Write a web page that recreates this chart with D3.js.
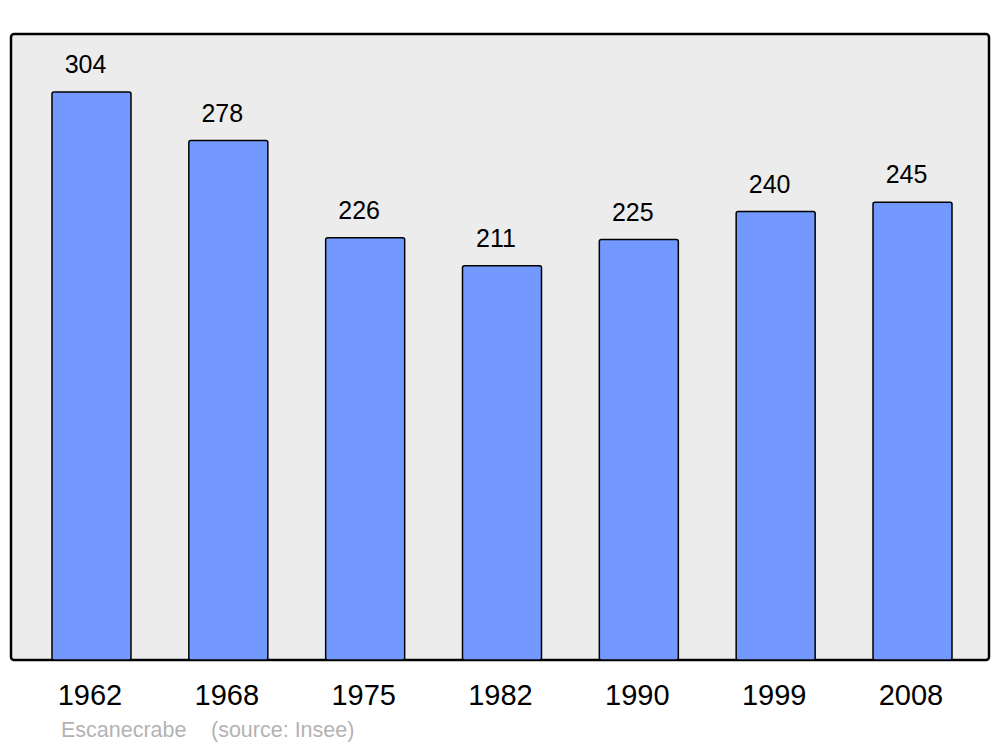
<!DOCTYPE html>
<html><head><meta charset="utf-8">
<script src="https://cdn.jsdelivr.net/npm/d3@7"></script>
<style>body{margin:0;background:#fff}svg{display:block}</style>
</head><body>
<svg id="c" width="1000" height="747"></svg>
<script>
const years = ["1962","1968","1975","1982","1990","1999","2008"];
const population = [304,278,226,211,225,240,245];
const footerAuthor = "Escanecrabe";
const footerSource = "(source: Insee)";

const svg = d3.select("#c");
const font = "'Liberation Sans', Arial, sans-serif";

svg.append("rect").attr("x",11).attr("y",34).attr("width",978).attr("height",626)
  .attr("rx",3).attr("fill","#ececec").attr("stroke","#000").attr("stroke-width",2.5);

const x = d3.scalePoint().domain(years).range([91.5, 912.5]);
const y = d3.scaleLinear().domain([0,304]).range([660,92]);
const bw = 79;

svg.selectAll("rect.bar").data(years).join("rect").attr("class","bar")
  .attr("x",d=>x(d)-bw/2).attr("y",(d,i)=>y(population[i]))
  .attr("width",bw).attr("height",(d,i)=>y(0)-y(population[i]))
  .attr("rx",2).attr("fill","#7399ff").attr("stroke","#000").attr("stroke-width",1.5);

svg.selectAll("text.val").data(years).join("text").attr("class","val")
  .attr("x",d=>x(d)-6).attr("y",(d,i)=>y(population[i])-19)
  .attr("text-anchor","middle").attr("font-family",font).attr("font-size",25)
  .text((d,i)=>population[i]);

svg.selectAll("text.yr").data(years).join("text").attr("class","yr")
  .attr("x",d=>x(d)-1.5).attr("y",705)
  .attr("text-anchor","middle").attr("font-family",font).attr("font-size",29)
  .text(d=>d);

svg.append("text").attr("x",61).attr("y",737).attr("font-family",font).attr("font-size",21.5)
  .attr("fill","#b3b3b3").text(footerAuthor);
svg.append("text").attr("x",211).attr("y",737).attr("font-family",font).attr("font-size",21.5)
  .attr("fill","#b3b3b3").text(footerSource);
</script>
</body></html>
